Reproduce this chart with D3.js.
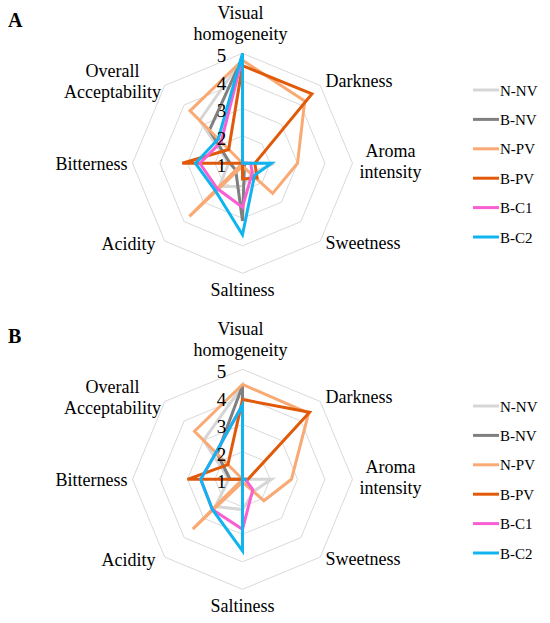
<!DOCTYPE html>
<html><head><meta charset="utf-8">
<script src="https://cdn.jsdelivr.net/npm/d3@7"></script>
<style>
html,body{margin:0;padding:0;background:#fff;}
svg{display:block;}
</style></head><body>
<svg id="chart" width="550" height="623"></svg>
<script>
const categories = ["Visual homogeneity","Darkness","Aroma intensity","Sweetness","Saltiness","Acidity","Bitterness","Overall Acceptability"];
const seriesNames = ["N-NV","B-NV","N-PV","B-PV","B-C1","B-C2"];
const tickValues = [1,2,3,4,5];
const panelLetters = ["A","B"];

// Panel A values (per category order)
const A_NNV = [4.8, 1.0, 2.15, 1.5, 1.83, 2.2, 1.5, 3.2];
const A_BNV = [4.85, 1.0, 1.1, 1.1, 3.1, 1.35, 1.45, 2.7];
const A_NPV = [4.75, 4.2, 3.0, 2.55, 1.1, 3.73, 1.0, 3.7];
const A_BPV = [4.55, 4.57, 1.45, 1.75, 1.57, 1.0, 3.19, 1.71];
const A_BC1 = [4.85, 1.0, 1.3, 1.5, 2.6, 2.3, 2.55, 2.1];
const A_BC2 = [5.0, 1.0, 2.05, 1.62, 3.6, 2.4, 2.71, 2.25];

// Panel B values
const B_NNV = [4.4, 1.0, 2.05, 1.6, 2.1, 2.4, 1.5, 3.0];
const B_BNV = [4.4, 1.0, 1.0, 1.0, 1.0, 1.0, 1.45, 2.3];
const B_NPV = [4.45, 4.4, 2.78, 2.1, 1.1, 3.56, 1.0, 3.47];
const B_BPV = [3.9, 4.45, 1.2, 1.0, 1.0, 1.0, 3.0, 1.75];
const B_BC1 = [3.7, 1.0, 1.1, 1.53, 2.82, 2.55, 2.52, 2.37];
const B_BC2 = [3.7, 1.0, 1.15, 1.0, 3.6, 2.55, 2.52, 2.37];

const panels = [
  [A_NNV, A_BNV, A_NPV, A_BPV, A_BC1, A_BC2],
  [B_NNV, B_BNV, B_NPV, B_BPV, B_BC1, B_BC2]
];

const colors = ["#d6d6d6","#808080","#f9aa74","#e05a0a","#f75fd2","#10b4ef"];
const FONT = "'Liberation Serif', 'Times New Roman', serif";

const svg = d3.select("#chart");
const R = 110;
const r = d3.scaleLinear().domain([1,5]).range([0,R]);
const angle = d3.scaleLinear().domain([0,categories.length]).range([0,2*Math.PI]);
const color = d3.scaleOrdinal().domain(seriesNames).range(colors);

const labelLayout = [
  {x:-2, y:-144.5, a:"middle", lines:["Visual","homogeneity"]},
  {x:83, y:-76.5, a:"start", lines:["Darkness"]},
  {x:148, y:-6.5, a:"middle", lines:["Aroma","intensity"]},
  {x:83, y:85.5, a:"start", lines:["Sweetness"]},
  {x:0, y:132.5, a:"middle", lines:["Saltiness"]},
  {x:-87, y:86.5, a:"end", lines:["Acidity"]},
  {x:-115, y:6.5, a:"end", lines:["Bitterness"]},
  {x:-130, y:-86.5, a:"middle", lines:["Overall","Acceptability"]}
];

const panelOffsetY = [0, 316];

panels.forEach((vals, pi) => {
  const cx = 242.5, cy = 163.3 + panelOffsetY[pi];
  const g = svg.append("g").attr("transform", `translate(${cx},${cy})`);

  const ring = d3.lineRadial().angle((d,i)=>angle(i)).radius(d=>r(d)).curve(d3.curveLinearClosed);
  tickValues.filter(t=>t>1).forEach(t=>{
    g.append("path").attr("d", ring(categories.map(()=>t)))
      .attr("fill","none").attr("stroke","#d9d9d9").attr("stroke-width",1);
  });

  const line = d3.lineRadial().angle((d,i)=>angle(i)).radius(d=>r(d)).curve(d3.curveLinearClosed);
  vals.forEach((v, si)=>{
    g.append("path").attr("d", line(v))
      .attr("fill","none").attr("stroke", color(seriesNames[si]))
      .attr("stroke-width",3).attr("stroke-linejoin","miter");
  });

  tickValues.forEach(t=>{
    g.append("text").attr("x",-21).attr("y",-r(t)+9)
      .attr("text-anchor","middle").attr("font-family",FONT).attr("font-size",19).text(t);
  });

  categories.forEach((c,i)=>{
    const L = labelLayout[i];
    const t = g.append("text").attr("text-anchor",L.a).attr("font-family",FONT).attr("font-size",18);
    L.lines.forEach((ln,k)=>{
      t.append("tspan").attr("x",L.x).attr("y",L.y+k*21.5).text(ln);
    });
  });

  svg.append("text").attr("x",8).attr("y",27+panelOffsetY[pi]).attr("font-family",FONT)
    .attr("font-size",20).attr("font-weight","bold").text(panelLetters[pi]);

  const lg = svg.append("g").attr("transform",`translate(473,${90+panelOffsetY[pi]})`);
  seriesNames.forEach((s,i)=>{
    const y = i*29.4;
    lg.append("line").attr("x1",0).attr("x2",26).attr("y1",y).attr("y2",y)
      .attr("stroke",color(s)).attr("stroke-width",3);
    lg.append("text").attr("x",27).attr("y",y+5.5).attr("font-family",FONT).attr("font-size",15).text(s);
  });
});
</script>
</body></html>
